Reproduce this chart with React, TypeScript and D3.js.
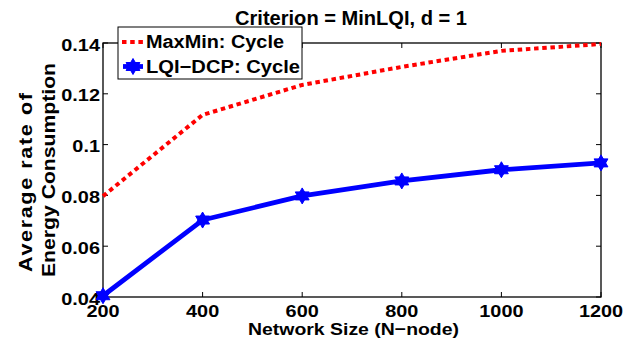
import React from "react";
import * as d3 from "d3";

const networkSizes = [200, 400, 600, 800, 1000, 1200];
const maxMinCycle = [0.0797, 0.1117, 0.1235, 0.1306, 0.1369, 0.1396];
const lqiDcpCycle = [0.0405, 0.0703, 0.0798, 0.0857, 0.0901, 0.0928];
const xTicks = [200, 400, 600, 800, 1000, 1200];
const yTicks = [0.04, 0.06, 0.08, 0.1, 0.12, 0.14];
const seriesNames = ["MaxMin: Cycle", "LQI\u2212DCP: Cycle"];
const titleText = "Criterion = MinLQI, d = 1";
const xLabel = "Network Size (N\u2212node)";
const yLabelLines = ["Average rate of", "Energy Consumption"];

const W = 634;
const H = 343;
const m = { left: 103, right: 601, top: 43, bottom: 297 };
const font = "'Liberation Sans', Arial, Helvetica, sans-serif";
const stretch = 1.17;

function hexagram(cx: number, cy: number, r: number): string {
  const tri = (offset: number) =>
    d3.range(3).map((i) => {
      const a = offset + (i * 2 * Math.PI) / 3;
      return [cx + r * Math.sin(a), cy - r * Math.cos(a)];
    });
  const p = (t: number[][]) => "M" + t.map((q) => q.join(",")).join("L") + "Z";
  return p(tri(0)) + p(tri(Math.PI));
}

export default function App() {
  const x = d3.scaleLinear().domain([200, 1200]).range([m.left, m.right]);
  const y = d3.scaleLinear().domain([0.04, 0.14]).range([m.bottom, m.top]);
  const line = d3
    .line<number>()
    .x((_, i) => x(networkSizes[i]))
    .y((d) => y(d));

  const fmt = (v: number) => String(+v.toFixed(2));

  return (
    <svg width={W} height={H} style={{ position: "absolute", left: 0, top: 0, background: "#fff" }} fontFamily={font} fontWeight="bold">
      <rect x={0} y={0} width={W} height={H} fill="#fff" />
      {/* plot frame with inward ticks on all four sides */}
      <rect x={m.left} y={m.top} width={m.right - m.left} height={m.bottom - m.top} fill="none" stroke="#000" strokeWidth={1.3} />
      {xTicks.map((t) => (
        <g key={"x" + t}>
          <line x1={x(t)} x2={x(t)} y1={m.bottom} y2={m.bottom - 5} stroke="#000" />
          <line x1={x(t)} x2={x(t)} y1={m.top} y2={m.top + 5} stroke="#000" />
          <text transform={`translate(${x(t)},317) scale(${stretch},1)`} textAnchor="middle" fontSize={17}>{t}</text>
        </g>
      ))}
      {yTicks.map((t) => (
        <g key={"y" + t}>
          <line x1={m.left} x2={m.left + 5} y1={y(t)} y2={y(t)} stroke="#000" />
          <line x1={m.right} x2={m.right - 5} y1={y(t)} y2={y(t)} stroke="#000" />
          <text transform={`translate(100,${y(t) + 7.5}) scale(${stretch},1)`} textAnchor="end" fontSize={17}>{fmt(t)}</text>
        </g>
      ))}

      <path d={line(maxMinCycle) || ""} fill="none" stroke="#ff0000" strokeWidth={4} strokeDasharray="4.5,3.7" />
      <path d={line(lqiDcpCycle) || ""} fill="none" stroke="#0000ff" strokeWidth={4.8} strokeLinejoin="round" />
      {lqiDcpCycle.map((v, i) => (
        <path key={"mk" + i} d={hexagram(x(networkSizes[i]), y(v), 8)} fill="#0000ff" stroke="#0000ff" strokeWidth={1} />
      ))}

      <text x={351} y={25} textAnchor="middle" fontSize={20} textLength={232} lengthAdjust="spacingAndGlyphs">{titleText}</text>
      <text x={353.5} y={335} textAnchor="middle" fontSize={17} textLength={211} lengthAdjust="spacingAndGlyphs">{xLabel}</text>
      <text transform={`translate(32,182.5) rotate(-90) scale(${stretch},1)`} textAnchor="middle" fontSize={18.5} textLength={179 / stretch} lengthAdjust="spacing">{yLabelLines[0]}</text>
      <text transform="translate(55,170) rotate(-90)" textAnchor="middle" fontSize={18.5} textLength={214} lengthAdjust="spacingAndGlyphs">{yLabelLines[1]}</text>

      {/* legend */}
      <rect x={118} y={27} width={184} height={52} fill="#fff" stroke="#000" strokeWidth={1} />
      <line x1={122} x2={143} y1={42} y2={42} stroke="#ff0000" strokeWidth={4} strokeDasharray="4.5,3.7" />
      <text x={146} y={48} fontSize={18} textLength={138} lengthAdjust="spacingAndGlyphs">{seriesNames[0]}</text>
      <line x1={123} x2={143} y1={66.5} y2={66.5} stroke="#0000ff" strokeWidth={4.8} />
      <path d={hexagram(133, 66.5, 8)} fill="#0000ff" stroke="#0000ff" strokeWidth={1} />
      <text x={146} y={73} fontSize={18} textLength={154} lengthAdjust="spacingAndGlyphs">{seriesNames[1]}</text>
    </svg>
  );
}
